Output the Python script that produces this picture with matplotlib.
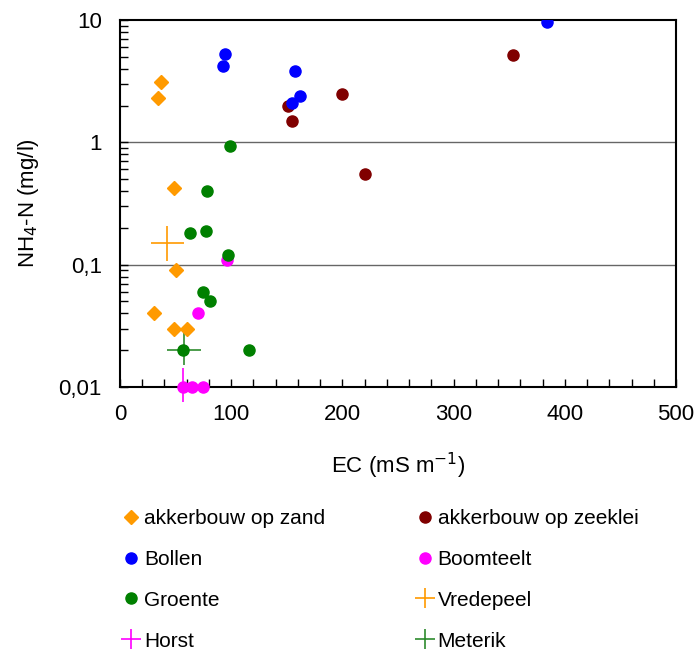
import matplotlib.pyplot as plt
from matplotlib.ticker import LogLocator, FixedLocator, MultipleLocator, FuncFormatter, NullFormatter

plt.rcParams['font.family'] = ['Liberation Sans', 'DejaVu Sans']

# akkerbouw op zand
zand_x = [37, 34, 49, 50, 31, 49, 60]
zand_y = [3.1, 2.3, 0.42, 0.09, 0.04, 0.03, 0.03]
# akkerbouw op zeeklei
zeeklei_x = [151, 155, 200, 220, 353]
zeeklei_y = [2.0, 1.5, 2.5, 0.55, 5.2]
# Bollen
bollen_x = [94, 93, 157, 162, 155, 384]
bollen_y = [5.3, 4.2, 3.8, 2.4, 2.1, 9.7]
# Boomteelt
boom_x = [96, 70, 57, 65, 75]
boom_y = [0.11, 0.04, 0.01, 0.01, 0.01]
# Groente
groente_x = [99, 78, 63, 77, 97, 75, 81, 116, 57]
groente_y = [0.94, 0.40, 0.18, 0.19, 0.12, 0.06, 0.05, 0.02, 0.02]

# sites with error bars: x, y, xerr, yerr (lower, upper)
vredepeel = (42.5, 0.15, 15, (0.042, 0.057))
horst = (57, 0.01, 15, (0.0025, 0.0043))
meterik = (57.5, 0.02, 15, (0.005, 0.0087))

fig = plt.figure(figsize=(6.94, 6.51), dpi=100)
ax = fig.add_axes([120/694, 1-387/651, 556/694, 367/651])

ax.axhline(1, color='#666666', lw=1, zorder=1)
ax.axhline(0.1, color='#666666', lw=1, zorder=1)

ms = 8
h1 = ax.plot(zand_x, zand_y, 'D', color='#ff9a00', ms=7, ls='none', zorder=3)[0]
h2 = ax.plot(zeeklei_x, zeeklei_y, 'o', color='#800000', ms=ms, ls='none', zorder=3)[0]
h3 = ax.plot(bollen_x, bollen_y, 'o', color='#0000ff', ms=ms, ls='none', zorder=4)[0]
h4 = ax.plot(boom_x, boom_y, 'o', color='#ff00ff', ms=ms, ls='none', zorder=3, clip_on=False)[0]
h5 = ax.plot(groente_x, groente_y, 'o', color='#008000', ms=ms, ls='none', zorder=4)[0]

handles = []
for (x, y, xe, ye), col in [(vredepeel, '#ff9a00'), (horst, '#ff00ff'), (meterik, '#2e8b2e')]:
    ax.errorbar([x], [y], xerr=[xe], yerr=[[ye[0]], [ye[1]]], fmt='none',
                ecolor=col, elinewidth=1.2, capsize=0, zorder=2, clip_on=False)
    handles.append(ax.plot([], [], '+', color=col, ms=14, mew=1.2, ls='none')[0])
h6, h7, h8 = handles

ax.set_xlim(0, 500)
ax.set_yscale('log')
ax.set_ylim(0.01, 10)
ax.xaxis.set_major_locator(MultipleLocator(100))
ax.xaxis.set_minor_locator(MultipleLocator(20))
ax.yaxis.set_major_locator(FixedLocator([0.01, 0.1, 1, 10]))
ax.yaxis.set_minor_locator(LogLocator(base=10, subs=range(2, 10)))
ax.yaxis.set_minor_formatter(NullFormatter())
ylabels = {0.01: '0,01', 0.1: '0,1', 1: '1', 10: '10'}
ax.yaxis.set_major_formatter(FuncFormatter(lambda v, p: ylabels.get(round(v, 2), '')))

ax.tick_params(which='both', direction='in', labelsize=16, width=1, color='black', length=6)
ax.tick_params(axis='y', which='major', pad=13)
ax.tick_params(axis='x', which='major', pad=12)
for s in ax.spines.values():
    s.set_linewidth(1.5)

ax.set_xlabel('EC (mS m$^{-1}$)', fontsize=16, labelpad=19)
ax.set_ylabel('NH$_4$-N (mg/l)', fontsize=16, labelpad=13)

fig.legend([h1, h3, h5, h7, h2, h4, h6, h8],
           ['akkerbouw op zand', 'Bollen', 'Groente', 'Horst',
            'akkerbouw op zeeklei', 'Boomteelt', 'Vredepeel', 'Meterik'],
           ncol=2, loc='upper left', bbox_to_anchor=(121/694, 1-509/651),
           frameon=False, fontsize=15, handlelength=1.0, handletextpad=0.1,
           labelspacing=1.05, columnspacing=4.3, borderaxespad=0, borderpad=0)

fig.savefig('out.png', dpi=100)
